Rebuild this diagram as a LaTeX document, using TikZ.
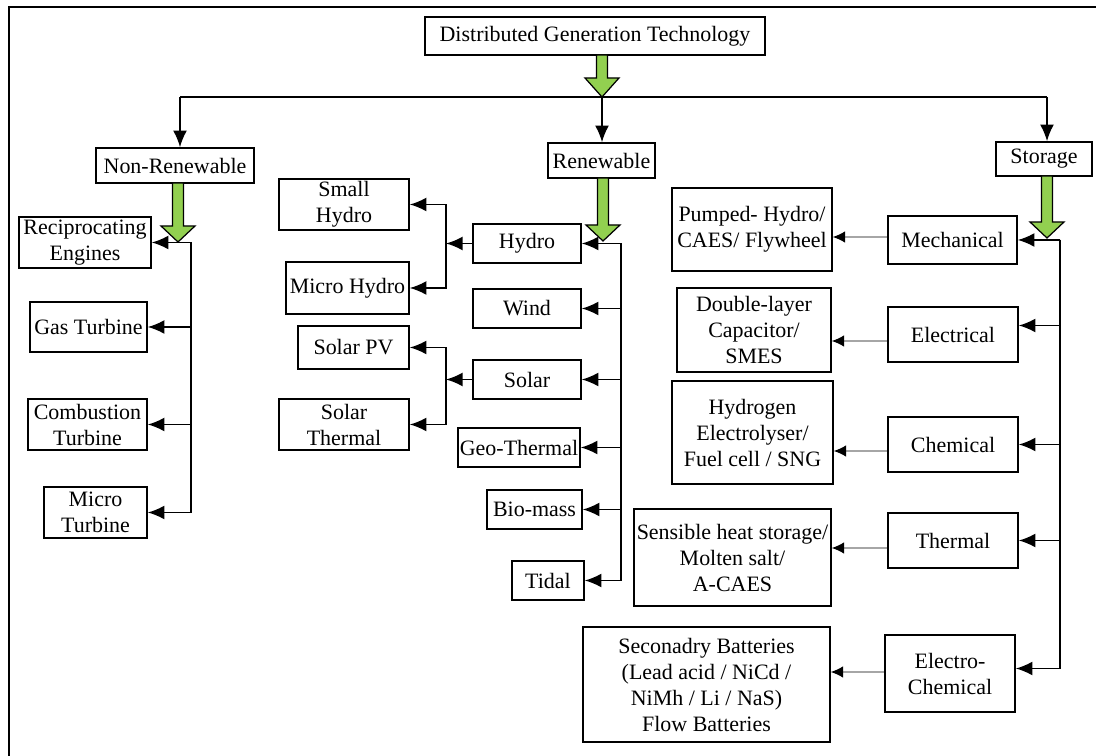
\documentclass[tikz,border=0pt]{standalone}
\usepackage{fontspec}
\setmainfont{Liberation Serif}
\usepackage{tikz}
\usetikzlibrary{arrows.meta}

\definecolor{leaf}{RGB}{146,208,80}

% fat green arrow: x, top, tip, head length
\newcommand{\greenarrow}[4]{%
  \filldraw[fill=leaf,draw=black,line width=0.7pt]
    ({#1-5.5},#2) -- ({#1+5.5},#2) -- ({#1+5.5},{#3-#4}) -- ({#1+17},{#3-#4})
    -- (#1,#3) -- ({#1-17},{#3-#4}) -- ({#1-5.5},{#3-#4}) -- cycle;}

\begin{document}
\begin{tikzpicture}[x=0.02cm,y=-0.02cm,line width=1pt,
  font=\fontsize{12.5}{14.8}\selectfont,
  box/.style={draw,line width=0.9pt,align=center,inner sep=1pt},
  arr/.style={-{Latex[length=9.5pt,width=8pt]}},
  garr/.style={draw=gray!70,line width=0.6pt,-{Latex[length=7pt,width=6.5pt,color=black]}}]

\useasboundingbox (0,0) rectangle (1096,756);
\draw[line width=1pt] (9,756) -- (9,7) -- (1096,7);

% main levels
\node[box,minimum width=6.8cm,minimum height=0.76cm] (dgt) at (595,36) {Distributed Generation Technology};
\node[box,minimum width=3.16cm,minimum height=0.70cm] (nonren) at (175,165.5) {Non-Renewable};
\node[box,minimum width=2.14cm,minimum height=0.70cm] (ren) at (601.5,160.5) {Renewable};
\node[box,minimum width=1.92cm,minimum height=0.68cm] (stor) at (1044,159) {Storage};

% non-renewable
\node[box,minimum width=2.64cm,minimum height=1.02cm] (recip) at (85,242.5) {Reciprocating\\Engines};
\node[box,minimum width=2.34cm,minimum height=1.00cm] (gas) at (88.5,327) {Gas Turbine};
\node[box,minimum width=2.38cm,minimum height=1.02cm] (comb) at (87.5,424.5) {Combustion\\Turbine};
\node[box,minimum width=2.06cm,minimum height=1.02cm] (micro) at (95.5,512.5) {Micro\\Turbine};

% renewable
\foreach \name/\text/\x/\y/\w in {hydro/Hydro/527/243.5/2.16, wind/Wind/527/308.5/2.16,
    solar/Solar/527/379.5/2.16, geo/Geo-Thermal/519/447.5/2.44,
    bio/Bio-mass/534.5/509.5/1.9, tidal/Tidal/548/580.5/1.44}
  \node[box,minimum width=\w cm,minimum height=0.78cm] (\name) at (\x,\y) {\text};

\node[box,minimum width=2.6cm,minimum height=1.02cm] (small) at (344,204.5) {Small\\Hydro};
\node[box,minimum width=2.46cm,minimum height=1.04cm] (microh) at (347.5,288) {Micro Hydro};
\node[box,minimum width=2.22cm,minimum height=0.86cm] (pv) at (353.5,347.5) {Solar PV};
\node[box,minimum width=2.6cm,minimum height=1.02cm] (sth) at (344,424.5) {Solar\\Thermal};

% storage
\node[box,minimum width=2.58cm,minimum height=0.96cm] (mech) at (952.5,240) {Mechanical};
\node[box,minimum width=2.6cm,minimum height=1.10cm] (elec) at (953,334.5) {Electrical};
\node[box,minimum width=2.6cm,minimum height=1.10cm] (chem) at (953,444.5) {Chemical};
\node[box,minimum width=2.6cm,minimum height=1.10cm] (therm) at (953,540.5) {Thermal};
\node[box,minimum width=2.6cm,minimum height=1.54cm] (echem) at (950,673.5) {Electro-\\Chemical};

\node[box,minimum width=3.2cm,minimum height=1.66cm] (pump) at (752,229.5) {Pumped- Hydro/\\CAES/ Flywheel};
\node[box,minimum width=3.08cm,minimum height=1.68cm] (dlc) at (754,330) {Double-layer\\Capacitor/\\SMES};
\node[box,minimum width=3.22cm,minimum height=2.06cm] (hyd) at (752.5,432.5) {Hydrogen\\Electrolyser/\\Fuel cell / SNG};
\node[box,minimum width=3.94cm,minimum height=1.94cm] (sens) at (732.5,557.5) {Sensible heat storage/\\Molten salt/\\A-CAES};
\node[box,minimum width=4.94cm,minimum height=2.3cm] (batt) at (706.5,684.5) {Seconadry Batteries\\(Lead acid / NiCd /\\NiMh / Li / NaS)\\Flow Batteries};

% top bus
\coordinate (busl) at (180,97);
\coordinate (busm) at (602,97);
\coordinate (busr) at (1047,97);
\draw (busl) -- (busr);
\draw[arr] (busl) -- (busl |- nonren.north);
\draw[arr] (busm) -- (busm |- ren.north);
\draw[arr] (busr) -- (busr |- stor.north);

% branch buses
\coordinate (nrbus) at (191,242.5);
\coordinate (rbus) at (621,243.5);
\coordinate (hbus) at (446,243.5);
\coordinate (sbus) at (446,379.5);
\coordinate (stbus) at (1060,240);

\draw[arr] (nrbus) -- (recip);
\foreach \n in {gas,comb,micro}
  \draw[arr] (nrbus) |- (\n);

\foreach \n in {hydro,wind,solar,geo,bio,tidal}
  \draw[arr] (rbus) |- (\n);

\draw[arr] (hydro) -- (hbus);
\draw[arr] (hbus) |- (small);
\draw[arr] (hbus) |- (microh);
\draw[arr] (solar) -- (sbus);
\draw[arr] (sbus) |- (pv);
\draw[arr] (sbus) |- (sth);

\draw[arr] (stbus) -- (mech);
\draw[arr] (stbus) |- ([yshift=0.18cm]elec.east);
\foreach \n in {chem,therm}
  \draw[arr] (stbus) |- (\n);
\draw[arr] (stbus) |- ([yshift=0.1cm]echem.east);

\foreach \a/\b/\dy in {mech/pump/0.06, elec/dlc/-0.13, chem/hyd/-0.13, therm/sens/-0.15, echem/batt/0.03}
  \draw[garr] ([yshift=\dy cm]\a.west) coordinate (g) -- (\b.east |- g);

% green arrows
\greenarrow{602}{55}{97}{19}
\greenarrow{178}{183}{242}{16}
\greenarrow{603}{178}{241}{16}
\greenarrow{1047}{176}{238}{16}

\end{tikzpicture}
\end{document}
